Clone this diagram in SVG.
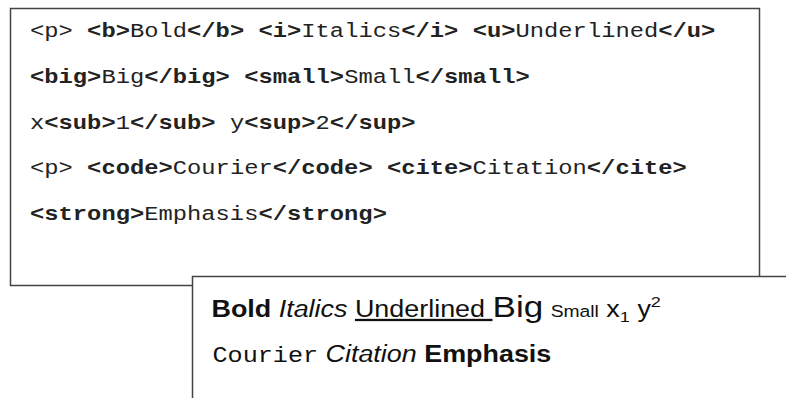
<svg xmlns="http://www.w3.org/2000/svg" width="786" height="398" viewBox="0 0 786 398">
  <style>
    .mono { font-family: "Liberation Mono", "Courier New", monospace; font-size: 19.5px; fill: #222; }
    .tag { font-weight: bold; }
    .sans { font-family: "Liberation Sans", Arial, sans-serif; font-size: 23px; fill: #111; }
    .box { fill: #fff; stroke: #444; stroke-width: 1.5; }
  </style>

  <!-- HTML source panel -->
  <g id="source">
    <rect class="box" x="10.5" y="8.5" width="749" height="277"/>
    <g transform="translate(30,37) scale(1.22,1)">
      <text class="mono" x="0" y="0">&lt;p&gt; <tspan class="tag">&lt;b&gt;</tspan>Bold<tspan class="tag">&lt;/b&gt;</tspan> <tspan class="tag">&lt;i&gt;</tspan>Italics<tspan class="tag">&lt;/i&gt;</tspan> <tspan class="tag">&lt;u&gt;</tspan>Underlined<tspan class="tag">&lt;/u&gt;</tspan></text>
    </g>
    <g transform="translate(30,83) scale(1.22,1)">
      <text class="mono" x="0" y="0"><tspan class="tag">&lt;big&gt;</tspan>Big<tspan class="tag">&lt;/big&gt;</tspan> <tspan class="tag">&lt;small&gt;</tspan>Small<tspan class="tag">&lt;/small&gt;</tspan></text>
    </g>
    <g transform="translate(30,128.5) scale(1.22,1)">
      <text class="mono" x="0" y="0">x<tspan class="tag">&lt;sub&gt;</tspan>1<tspan class="tag">&lt;/sub&gt;</tspan> y<tspan class="tag">&lt;sup&gt;</tspan>2<tspan class="tag">&lt;/sup&gt;</tspan></text>
    </g>
    <g transform="translate(30,174) scale(1.22,1)">
      <text class="mono" x="0" y="0">&lt;p&gt; <tspan class="tag">&lt;code&gt;</tspan>Courier<tspan class="tag">&lt;/code&gt;</tspan> <tspan class="tag">&lt;cite&gt;</tspan>Citation<tspan class="tag">&lt;/cite&gt;</tspan></text>
    </g>
    <g transform="translate(30,219.5) scale(1.22,1)">
      <text class="mono" x="0" y="0"><tspan class="tag">&lt;strong&gt;</tspan>Emphasis<tspan class="tag">&lt;/strong&gt;</tspan></text>
    </g>
  </g>

  <!-- Rendered output panel -->
  <g id="rendered">
    <rect class="box" x="192.5" y="276.5" width="700" height="200" stroke="#333"/>
    <g transform="translate(211.5,317) scale(1.17,1)">
      <text class="sans" x="0" y="0"><tspan font-weight="bold">Bold</tspan> <tspan font-style="italic">Italics</tspan> <tspan text-decoration="underline">Underlined </tspan><tspan font-size="30">Big</tspan> <tspan font-size="16.5">Small</tspan> x<tspan font-size="15.5" dy="5">1</tspan> <tspan dy="-5">y</tspan><tspan font-size="15.5" dy="-10">2</tspan></text>
    </g>
    <g transform="translate(212.5,362) scale(1.17,1)">
      <text class="sans" x="0" y="0"><tspan font-family="'Liberation Mono', 'Courier New', monospace" font-size="21.5">Courier</tspan> <tspan font-style="italic">Citation</tspan> <tspan font-weight="bold">Emphasis</tspan></text>
    </g>
  </g>
</svg>
